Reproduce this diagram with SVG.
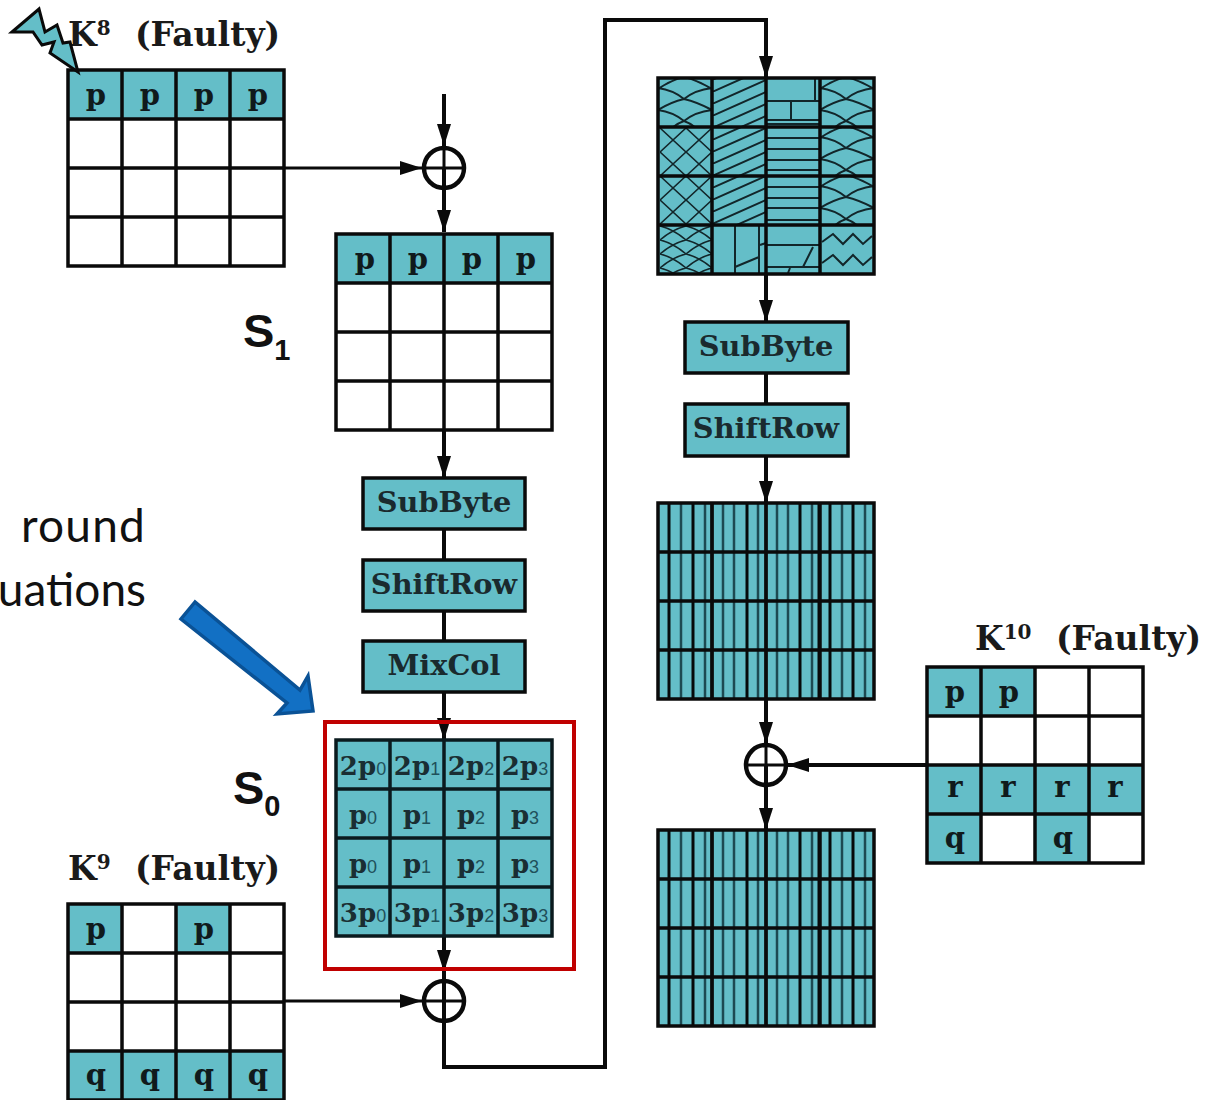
<svg xmlns="http://www.w3.org/2000/svg" width="1213" height="1100" viewBox="0 0 1213 1100">
<style>
.cell{fill:#64bec8}
.grid{fill:none;stroke:#0a0a0a;stroke-width:3.5}
.sub-grid{fill:none;stroke:#0a1a1e;stroke-width:3.5}
.hatch{fill:none;stroke:#12262a;stroke-width:2}
.hatch-fine{fill:none;stroke:#12262a;stroke-width:1.6}
.bar-thick{fill:none;stroke:#050a0b;stroke-width:3}
.bar-dim{fill:none;stroke:#1d4a52;stroke-width:2.5}
.conn{fill:none;stroke:#0a0a0a;stroke-width:4}
.thin{fill:none;stroke:#0a0a0a;stroke-width:3}
.xor{fill:none;stroke:#0a0a0a;stroke-width:4.5}
.box{fill:#64bec8;stroke:#0a0a0a;stroke-width:3.5}
.t{font-family:"DejaVu Serif","Liberation Serif",serif;font-weight:bold;fill:#101a1c}
.p{font-size:29px;text-anchor:middle}
.lab{font-size:28.8px;text-anchor:middle;fill:#1a2a2e}
.title{font-size:33px;fill:#1a1a1a}
.s0{font-size:26px;text-anchor:middle;fill:#1a2e33}
.sm{font-size:18px;font-family:"Liberation Sans",sans-serif;font-weight:normal;fill:#20505a}
.big{font-family:"Liberation Sans",Arial,sans-serif;font-weight:bold;font-size:47px;fill:#111}
.bigsub{font-size:29px}
.note{font-family:Lato,"Noto Sans",sans-serif;font-size:46px;fill:#111}
</style>
<defs>
<marker id="ah" viewBox="0 0 22 16" refX="22" refY="8" markerWidth="22" markerHeight="16" markerUnits="userSpaceOnUse" orient="auto"><path d="M0 1L22 8L0 15Z" fill="#0a0a0a"/></marker>
<path id="g" d="M0 0H216V196H0ZM54 0V196M108 0V196M162 0V196M0 49H216M0 98H216M0 147H216"/>
<path id="bars-thick" d="M11 0V196M35 0V196M54 0V196M89 0V196M108 0V196M142 0V196M161 0V196M172 0V196M195 0V196"/>
<path id="bars-dim" d="M23 0V196M47 0V196M65 0V196M76 0V196M100 0V196M119 0V196M130 0V196M154 0V196M184 0V196M207 0V196"/>
<pattern id="scallop" width="54" height="49" patternUnits="userSpaceOnUse" patternTransform="translate(658 78)"><path class="hatch" d="M0 11Q13 2 26 -1Q39 2 54 11M0 10Q15 12 26 21Q37 12 54 10M0 32Q13 24 26 21Q39 24 54 32M0 32Q15 34 26 43Q37 34 54 32M14 50Q20 45 26 43Q32 45 38 50"/></pattern>
<pattern id="diag" width="54" height="12" patternUnits="userSpaceOnUse" patternTransform="translate(712 80)"><path class="hatch" d="M0 24L54 0M0 12L54 -12M0 36L54 12"/></pattern>
<pattern id="cross" width="26" height="24" patternUnits="userSpaceOnUse" patternTransform="translate(660 128)"><path class="hatch-fine" d="M0 0L26 24M26 0L0 24"/></pattern>
<pattern id="weave" width="26" height="14" patternUnits="userSpaceOnUse" patternTransform="translate(660 226)"><path class="hatch-fine" d="M0 0Q13 3 26 14M26 0Q13 3 0 14"/></pattern>
</defs>

<g id="connectors">
<path class="conn" d="M444 94V146" marker-end="url(#ah)"/>
<path class="conn" d="M444 168V232" marker-end="url(#ah)"/>
<path class="thin" d="M284 168H422" marker-end="url(#ah)"/>
<path class="conn" d="M444 430V478" marker-end="url(#ah)"/>
<path class="conn" d="M444 529V560M444 611V641"/>
<path class="conn" d="M444 692V740" marker-end="url(#ah)"/>
<path class="conn" d="M444 937V972" marker-end="url(#ah)"/>
<path class="conn" d="M444 972V1001"/>
<path class="thin" d="M284 1001H422" marker-end="url(#ah)"/>
<path class="conn" d="M444 1001V1067H605V20H766V78" marker-end="url(#ah)"/>
<path class="conn" d="M766 274V322" marker-end="url(#ah)"/>
<path class="conn" d="M766 373V404"/>
<path class="conn" d="M766 456V503" marker-end="url(#ah)"/>
<path class="conn" d="M766 700V744" marker-end="url(#ah)"/>
<path class="conn" d="M766 765V830" marker-end="url(#ah)"/>
<path class="conn" d="M927 765H787" marker-end="url(#ah)"/>
</g>

<g id="xor-top"><circle class="xor" cx="444" cy="168" r="20"/><path class="thin" d="M424 168H464M444 148V188"/></g>
<g id="xor-bottom"><circle class="xor" cx="444" cy="1001" r="20"/><path class="thin" d="M424 1001H464M444 981V1021"/></g>
<g id="xor-right"><circle class="xor" cx="766" cy="765" r="20"/><path class="thin" d="M746 765H786M766 745V785"/></g>

<g id="k8">
<rect class="cell" x="68" y="70" width="216" height="49"/>
<use href="#g" class="grid" x="68" y="70"/>
<g class="t p"><text x="96" y="105">p</text><text x="150" y="105">p</text><text x="204" y="105">p</text><text x="258" y="105">p</text></g>
<text class="t title" x="68" y="46">K<tspan font-size="20" dy="-11">8</tspan><tspan x="135" dy="11">(Faulty)</tspan></text>
</g>
<g id="fault-bolt"><path d="M12 32L39 9L45 32L57 25L63 43L70 42L78 72L50 53L54 42L42 45L33 32Z" fill="#64bec8" stroke="#0a0a0a" stroke-width="3"/></g>

<g id="s1">
<rect class="cell" x="336" y="234" width="216" height="49"/>
<use href="#g" class="grid" x="336" y="234"/>
<g class="t p"><text x="365" y="269">p</text><text x="418" y="269">p</text><text x="472" y="269">p</text><text x="526" y="269">p</text></g>
</g>
<text id="s1-label" class="big" x="243" y="347">S<tspan class="bigsub" dy="13">1</tspan></text>

<g id="subbyte-left"><rect class="box" x="363" y="478" width="162" height="51"/><text class="t lab" x="444" y="512">SubByte</text></g>
<g id="shiftrow-left"><rect class="box" x="363" y="560" width="162" height="51"/><text class="t lab" x="444" y="594">ShiftRow</text></g>
<g id="mixcol-left"><rect class="box" x="363" y="641" width="162" height="51"/><text class="t lab" x="444" y="675">MixCol</text></g>

<g id="highlight"><rect x="325" y="722" width="249" height="247" fill="none" stroke="#c00000" stroke-width="4"/></g>

<g id="s0">
<rect class="cell" x="336" y="740" width="216" height="197"/>
<use href="#g" class="sub-grid" x="336" y="740"/>
<g class="t s0">
<text x="363" y="775">2p<tspan class="sm">0</tspan></text><text x="417" y="775">2p<tspan class="sm">1</tspan></text><text x="471" y="775">2p<tspan class="sm">2</tspan></text><text x="525" y="775">2p<tspan class="sm">3</tspan></text>
<text x="363" y="824">p<tspan class="sm">0</tspan></text><text x="417" y="824">p<tspan class="sm">1</tspan></text><text x="471" y="824">p<tspan class="sm">2</tspan></text><text x="525" y="824">p<tspan class="sm">3</tspan></text>
<text x="363" y="873">p<tspan class="sm">0</tspan></text><text x="417" y="873">p<tspan class="sm">1</tspan></text><text x="471" y="873">p<tspan class="sm">2</tspan></text><text x="525" y="873">p<tspan class="sm">3</tspan></text>
<text x="363" y="922">3p<tspan class="sm">0</tspan></text><text x="417" y="922">3p<tspan class="sm">1</tspan></text><text x="471" y="922">3p<tspan class="sm">2</tspan></text><text x="525" y="922">3p<tspan class="sm">3</tspan></text>
</g>
</g>
<text id="s0-label" class="big" x="233" y="804">S<tspan class="bigsub" dy="12">0</tspan></text>

<g id="k9">
<rect class="cell" x="68" y="904" width="54" height="49"/>
<rect class="cell" x="176" y="904" width="54" height="49"/>
<rect class="cell" x="68" y="1051" width="216" height="49"/>
<use href="#g" class="grid" x="68" y="904"/>
<g class="t p"><text x="96" y="939">p</text><text x="204" y="939">p</text><text x="96" y="1085">q</text><text x="150" y="1085">q</text><text x="204" y="1085">q</text><text x="258" y="1085">q</text></g>
<text class="t title" x="68" y="880">K<tspan font-size="20" dy="-11">9</tspan><tspan x="135" dy="11">(Faulty)</tspan></text>
</g>

<g id="state-top">
<rect class="cell" x="658" y="78" width="216" height="196"/>
<rect x="658" y="78" width="54" height="49" fill="url(#scallop)"/>
<rect x="660" y="127" width="52" height="98" fill="url(#cross)"/>
<rect x="660" y="225" width="52" height="49" fill="url(#weave)"/>
<rect x="712" y="78" width="54" height="147" fill="url(#diag)"/>
<rect x="820" y="78" width="54" height="147" fill="url(#scallop)"/>
<path class="hatch" d="M766 101H820M791 101V120M815 78V101M766 120H820M766 124H820M766 138H820M766 149H820M766 160H820M766 170H820M766 187H820M766 198H820M766 208H820M766 220H820"/>
<path class="hatch" d="M735 225V274M759 225V274M735 267L759 257M760 245L766 243M766 245H820M766 267H820M813 247L803 267M790 268L788 273"/>
<path class="hatch" d="M822 242L833 234L843 244L853 234L863 244L872 236M822 263L833 255L843 265L853 255L863 265L872 257"/>
<use href="#g" class="grid" x="658" y="78"/>
</g>

<g id="subbyte-right"><rect class="box" x="685" y="322" width="163" height="51"/><text class="t lab" x="766" y="356">SubByte</text></g>
<g id="shiftrow-right"><rect class="box" x="685" y="404" width="163" height="52"/><text class="t lab" x="766" y="438">ShiftRow</text></g>

<g id="state-mid">
<rect class="cell" x="658" y="503" width="216" height="197"/>
<use href="#bars-dim" class="bar-dim" x="658" y="503"/>
<use href="#bars-thick" class="bar-thick" x="658" y="503"/>
<use href="#g" class="grid" x="658" y="503"/>
</g>

<g id="k10">
<rect class="cell" x="927" y="667" width="108" height="49"/>
<rect class="cell" x="927" y="765" width="215" height="49"/>
<rect class="cell" x="927" y="814" width="54" height="49"/>
<rect class="cell" x="1035" y="814" width="54" height="49"/>
<use href="#g" class="grid" x="927" y="667"/>
<g class="t p"><text x="955" y="702">p</text><text x="1009" y="702">p</text><text x="955" y="797">r</text><text x="1008" y="797">r</text><text x="1062" y="797">r</text><text x="1115" y="797">r</text><text x="955" y="848">q</text><text x="1063" y="848">q</text></g>
<text class="t title" x="975" y="650">K<tspan font-size="20" dy="-11">10</tspan><tspan x="1056" dy="11">(Faulty)</tspan></text>
</g>

<g id="state-bottom">
<rect class="cell" x="658" y="830" width="216" height="196"/>
<use href="#bars-dim" class="bar-dim" x="658" y="830"/>
<use href="#bars-thick" class="bar-thick" x="658" y="830"/>
<use href="#g" class="grid" x="658" y="830"/>
</g>

<text id="note-1" class="note" x="146" y="542" text-anchor="end" letter-spacing="1.2">round</text>
<text id="note-2" class="note" x="146" y="606" text-anchor="end">uations</text>
<g id="callout-arrow"><path d="M195 602L181 619L287 703L277 714L313 711L308 676L300 690Z" fill="#1270c4" stroke="#0a5296" stroke-width="3.5"/></g>
</svg>
